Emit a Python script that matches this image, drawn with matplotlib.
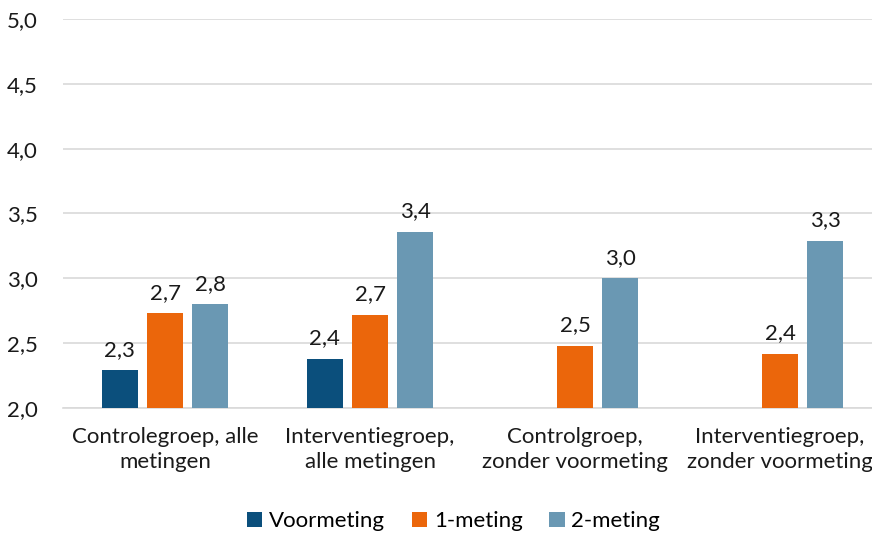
import numpy as np
import matplotlib.pyplot as plt

plt.rcParams['font.family'] = ['Lato', 'DejaVu Sans']

categories = ['Controlegroep, alle\nmetingen', 'Interventiegroep,\nalle metingen',
              'Controlgroep,\nzonder voormeting', 'Interventiegroep,\nzonder voormeting']
series = ['Voormeting', '1-meting', '2-meting']
voormeting = [2.29, 2.38, np.nan, np.nan]
meting1 = [2.73, 2.72, 2.48, 2.42]
meting2 = [2.80, 3.36, 3.00, 3.29]
colors = ['#0B4F7C', '#EB660B', '#6A98B3']

fig = plt.figure(figsize=(8.72, 5.34), dpi=100)
ax = fig.add_axes([62.5 / 872, 1 - 408 / 534, 1 - 62.5 / 872, (408 - 19) / 534])

x = np.arange(len(categories))
width = 0.176
offset = 0.22
for i, (name, vals) in enumerate(zip(series, [voormeting, meting1, meting2])):
    pos = x + (i - 1) * offset
    ax.bar(pos, np.array(vals) - 2.0, width, bottom=2.0, color=colors[i], label=name, zorder=3)
    for xp, v in zip(pos, vals):
        if not np.isnan(v):
            ax.text(xp, v + 0.08, f'{v:.1f}'.replace('.', ','), ha='center', va='bottom',
                    fontsize=16, color='#1a1a1a')

ax.set_ylim(2.0, 5.0)
ax.set_xlim(-0.5, -0.5 + 809.5 / 205)
yt = np.arange(2.0, 5.01, 0.5)
ax.set_yticks(yt)
ax.set_yticklabels([f'{v:.1f}'.replace('.', ',') for v in yt], fontsize=16, color='#1a1a1a')
ax.set_xticks(x)
ax.set_xticklabels(categories, fontsize=16, color='#1a1a1a', linespacing=1.3)
ax.tick_params(axis='both', length=0)
ax.tick_params(axis='y', pad=18)
ax.tick_params(axis='x', pad=14)
ax.grid(axis='y', color='#d9d9d9', linewidth=1.2, zorder=0)
for s in ['top', 'right', 'left']:
    ax.spines[s].set_visible(False)
ax.spines['bottom'].set_color('#d9d9d9')
ax.spines['bottom'].set_linewidth(1.2)

fig.legend(loc='lower center', bbox_to_anchor=(0.52, -0.032), ncol=3, frameon=False,
           fontsize=16, handlelength=0.7, handleheight=0.7, handletextpad=0.3, columnspacing=1.2)

fig.savefig('out.png', dpi=100)
